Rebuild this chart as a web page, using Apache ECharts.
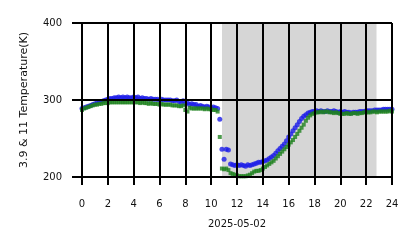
<!DOCTYPE html>
<html>
<head>
<meta charset="utf-8">
<script src="https://cdn.jsdelivr.net/npm/echarts@6/dist/echarts.min.js"></script>
<style>html,body{margin:0;padding:0;background:#fff;}#c{width:418px;height:248px;}</style>
</head>
<body>
<div id="c"></div>
<script>
// sampling: every 10 minutes from 00:00 to 24:00 (hours)
const stepMinutes = 10;
const xTicks = [0,2,4,6,8,10,12,14,16,18,20,22,24];
const yTicks = [200,300,400];
const nightBand = [10.84, 22.8];
const dateLabel = '2025-05-02';
const yName = '3.9 & 11 Temperature(K)';

const blue39 = [
 289,290,291,292,293,294,295,
 296,297,298,299,300,301,
 302,302,303,303,304,303,
 304,303,304,303,303,304,
 303,304,302,303,302,302,
 301,302,301,301,301,300,
 301,300,300,300,300,299,
 299,300,298,297,299,295,
 296,294,295,294,294,292,
 293,292,291,292,291,290,
 291,290,289,275,236,223,
 236,235,217,216,215,216,
 215,216,215,214,216,215,
 216,217,218,219,219,220,
 221,222,224,226,228,231,
 234,237,240,243,247,252,
 256,260,264,268,272,276,
 279,281,283,284,285,285,
 286,285,286,285,285,286,
 285,285,286,285,284,285,
 284,285,284,284,283,284,
 284,284,285,285,285,286,
 286,286,286,287,287,287,
 287,288,288,288,288,288
];
const green11 = [
 287,289,290,291,292,293,294,
 294,295,295,296,296,296,
 297,297,297,297,297,297,
 297,297,297,297,297,297,
 297,297,296,297,296,296,
 295,296,295,295,295,294,
 295,294,294,294,294,293,
 293,293,292,292,293,287,
 285,290,289,289,289,289,
 289,289,288,289,288,288,
 287,287,285,252,211,210,
 211,209,205,204,203,202,
 201,201,201,201,202,203,
 205,207,208,208,209,211,
 213,215,217,219,221,224,
 227,230,233,236,239,242,
 245,248,252,256,260,264,
 268,273,277,280,282,283,
 284,284,285,284,285,285,
 284,284,283,284,283,282,
 282,282,283,282,282,283,
 283,282,283,283,284,284,
 284,284,285,285,284,285,
 285,285,285,285,286,285
];

const toPairs = arr => arr.map((v, i) => [i * stepMinutes / 60, v]);

const chart = echarts.init(document.getElementById('c'), null, {renderer: 'canvas'});
const font = 'DejaVu Sans';
chart.setOption({
  animation: false,
  grid: {left: 82, right: 26, top: 23, bottom: 71, show: false},
  xAxis: {
    type: 'value', min: xTicks[0], max: xTicks[xTicks.length-1], interval: 2, z: 10,
    name: dateLabel, nameLocation: 'middle', nameGap: 42,
    nameTextStyle: {color: '#111', fontFamily: font, fontSize: 10},
    axisLine: {show: true, lineStyle: {color: '#000', width: 2}},
    axisTick: {show: true, length: 8, lineStyle: {color: '#000', width: 2}},
    axisLabel: {color: '#111', fontFamily: font, fontSize: 10, margin: 22},
    splitLine: {show: true, lineStyle: {color: '#000', width: 2}}
  },
  yAxis: {
    type: 'value', min: yTicks[0], max: yTicks[yTicks.length-1], interval: 100, z: 10,
    name: yName, nameLocation: 'middle', nameGap: 52, nameRotate: 90,
    nameTextStyle: {color: '#111', fontFamily: font, fontSize: 11},
    axisLine: {show: true, lineStyle: {color: '#000', width: 2}},
    axisTick: {show: true, length: 10, lineStyle: {color: '#000', width: 2}},
    axisLabel: {color: '#111', fontFamily: font, fontSize: 10, margin: 20},
    splitLine: {show: true, lineStyle: {color: '#000', width: 2}}
  },
  series: [
    {
      type: 'scatter', name: '3.9', data: toPairs(blue39),
      symbol: 'circle', symbolSize: 5,
      itemStyle: {color: '#1c1ce8'},
      markArea: {
        silent: true,
        itemStyle: {color: '#d6d6d6'},
        data: [[{xAxis: nightBand[0]}, {xAxis: nightBand[1]}]]
      }
    },
    {
      type: 'scatter', name: '11', data: toPairs(green11),
      symbol: 'rect', symbolSize: 4,
      itemStyle: {color: '#1f821f'}
    }
  ]
});
</script>
</body>
</html>
